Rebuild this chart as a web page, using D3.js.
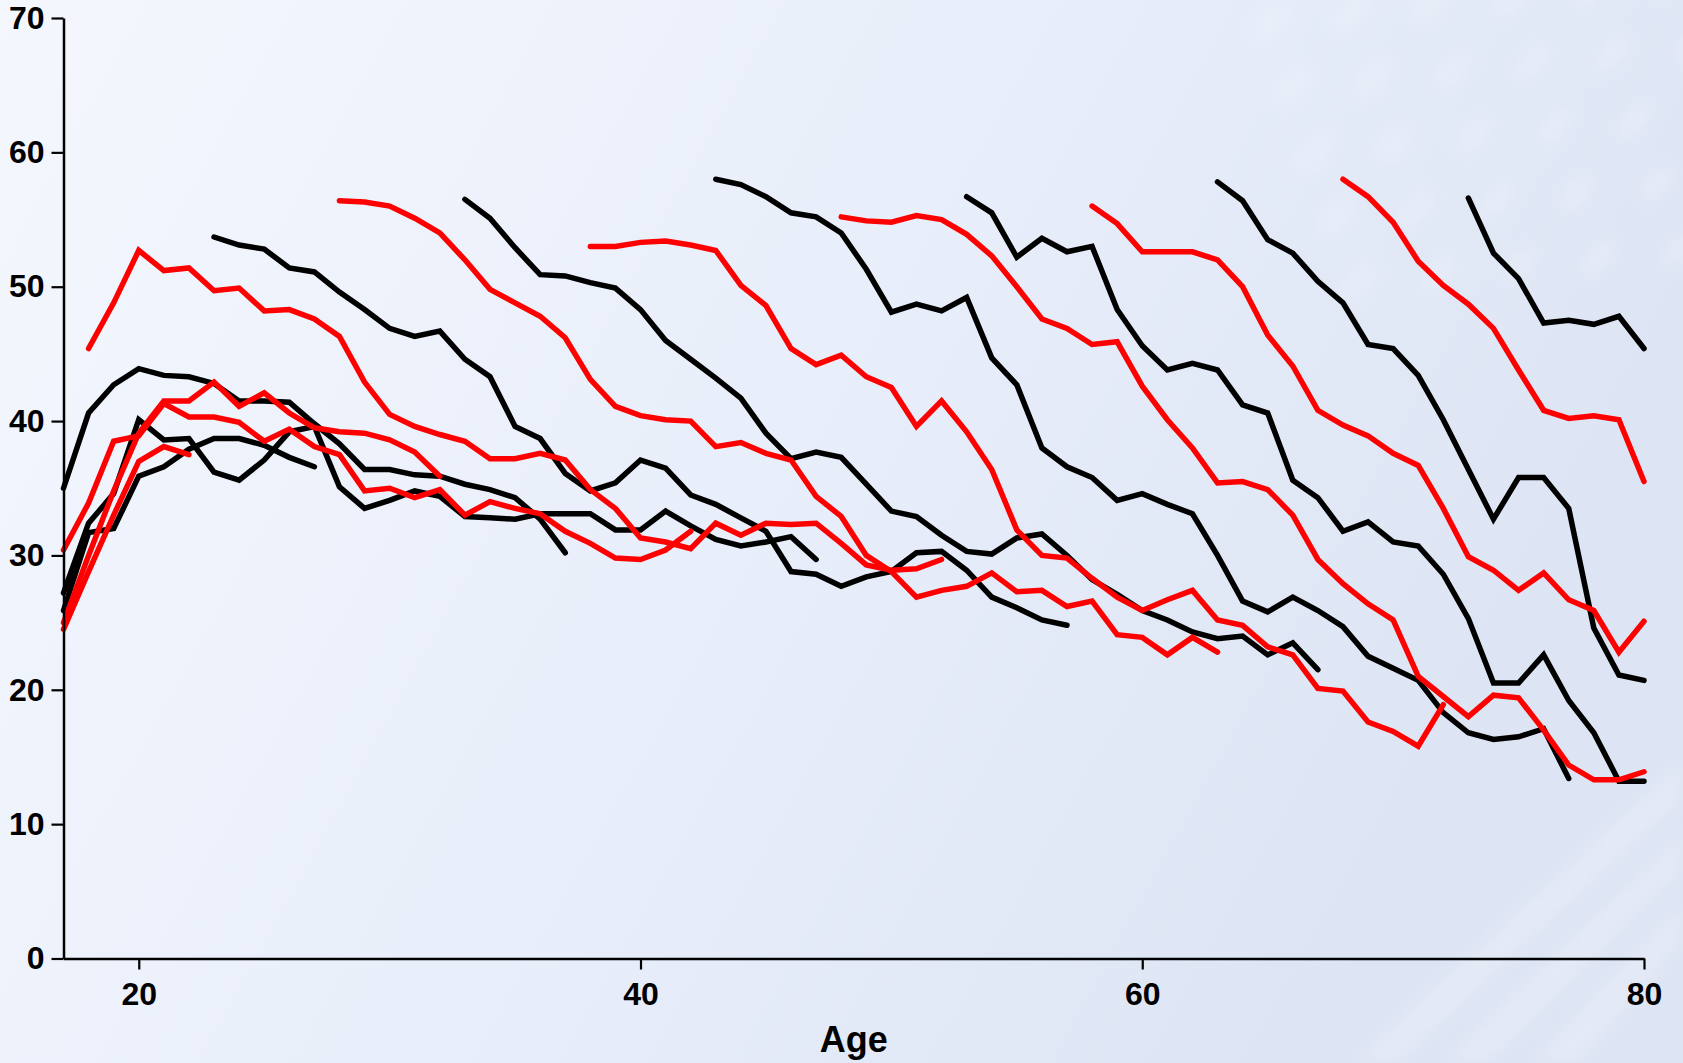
<!DOCTYPE html>
<html>
<head>
<meta charset="utf-8">
<script src="https://cdn.jsdelivr.net/npm/d3@7"></script>
<style>
  html, body { margin: 0; padding: 0; background: #eef2fb; }
  svg { display: block; }
  text { font-family: "Liberation Sans", Arial, Helvetica, sans-serif; font-weight: bold; }
</style>
</head>
<body>
<svg id="chart" width="1683" height="1063"></svg>
<script>
// ---------------- data ----------------
const ageDomain = [17, 80];
const valueDomain = [0, 70];
const xTicks = [20, 40, 60, 80];
const yTicks = [0, 10, 20, 30, 40, 50, 60, 70];
const xTitle = "Age";

// black series (values for consecutive ages from the start age)
const black_17_27 = [25.9, 31.7, 32.0, 35.9, 36.6, 37.9, 38.7, 38.7, 38.2, 37.3, 36.6];
const black_17_37 = [35.0, 40.6, 42.7, 43.9, 43.4, 43.3, 42.8, 41.5, 41.5, 41.4, 39.8, 38.3, 36.4, 36.4, 36.0, 35.9, 35.3, 34.9, 34.3, 32.7, 30.2];
const black_17_47 = [27.2, 32.4, 34.6, 40.1, 38.6, 38.7, 36.2, 35.6, 37.1, 39.2, 39.6, 35.1, 33.5, 34.1, 34.8, 34.4, 32.9, 32.8, 32.7, 33.1, 33.1, 33.1, 31.9, 31.9, 33.3, 32.2, 31.2, 30.7, 31.0, 31.4, 29.7];
const black_23_57 = [53.7, 53.1, 52.8, 51.4, 51.1, 49.6, 48.3, 46.9, 46.3, 46.7, 44.6, 43.3, 39.6, 38.7, 36.1, 34.8, 35.4, 37.1, 36.5, 34.5, 33.8, 32.8, 31.8, 28.8, 28.6, 27.7, 28.4, 28.8, 30.2, 30.3, 28.9, 26.9, 26.1, 25.2, 24.8];
const black_33_67 = [56.5, 55.1, 52.9, 50.9, 50.8, 50.3, 49.9, 48.3, 46.0, 44.6, 43.2, 41.7, 39.1, 37.2, 37.7, 37.3, 35.3, 33.3, 32.9, 31.5, 30.3, 30.1, 31.3, 31.6, 30.0, 28.2, 27.1, 25.9, 25.2, 24.3, 23.8, 24.0, 22.6, 23.5, 21.5];
const black_43_77 = [58.0, 57.6, 56.7, 55.5, 55.2, 54.0, 51.3, 48.1, 48.7, 48.2, 49.2, 44.7, 42.7, 38.0, 36.6, 35.8, 34.1, 34.6, 33.8, 33.1, 30.0, 26.6, 25.8, 26.9, 25.9, 24.7, 22.5, 21.6, 20.7, 18.3, 16.8, 16.3, 16.5, 17.1, 13.4];
const black_53_80 = [56.7, 55.5, 52.2, 53.6, 52.6, 53.0, 48.3, 45.6, 43.8, 44.3, 43.8, 41.2, 40.6, 35.6, 34.3, 31.8, 32.5, 31.0, 30.7, 28.6, 25.3, 20.5, 20.5, 22.6, 19.2, 16.8, 13.2, 13.2];
const black_63_80 = [57.8, 56.4, 53.5, 52.5, 50.4, 48.8, 45.7, 45.4, 43.4, 40.1, 36.4, 32.7, 35.8, 35.8, 33.5, 24.6, 21.1, 20.7];
const black_73_80 = [56.6, 52.5, 50.6, 47.3, 47.5, 47.2, 47.8, 45.4];

// red series
const red_17_22 = [24.5, 28.8, 33.0, 37.0, 38.1, 37.5];
const red_17_32 = [25.0, 30.0, 34.8, 39.1, 41.5, 41.5, 42.9, 41.1, 42.1, 40.6, 39.5, 39.2, 39.1, 38.6, 37.7, 35.9];
const red_17_42 = [30.4, 33.9, 38.5, 38.9, 41.3, 40.3, 40.3, 39.9, 38.5, 39.4, 38.1, 37.5, 34.8, 35.0, 34.3, 34.9, 33.0, 34.0, 33.5, 33.1, 31.8, 30.9, 29.8, 29.7, 30.4, 31.8];
const red_18_52 = [45.4, 48.8, 52.7, 51.2, 51.4, 49.7, 49.9, 48.2, 48.3, 47.6, 46.3, 42.9, 40.5, 39.6, 39.0, 38.5, 37.2, 37.2, 37.6, 37.1, 34.9, 33.5, 31.3, 31.0, 30.5, 32.4, 31.5, 32.4, 32.3, 32.4, 30.9, 29.3, 28.9, 29.0, 29.7];
const red_28_63 = [56.4, 56.3, 56.0, 55.1, 54.0, 52.0, 49.8, 48.8, 47.8, 46.2, 43.1, 41.1, 40.4, 40.1, 40.0, 38.1, 38.4, 37.6, 37.1, 34.4, 32.9, 30.0, 28.8, 26.9, 27.4, 27.7, 28.7, 27.3, 27.4, 26.2, 26.6, 24.1, 23.9, 22.6, 23.9, 22.8];
const red_38_72 = [53.0, 53.0, 53.3, 53.4, 53.1, 52.7, 50.1, 48.6, 45.4, 44.2, 44.9, 43.3, 42.5, 39.6, 41.5, 39.2, 36.4, 31.9, 30.0, 29.8, 28.3, 26.9, 25.9, 26.7, 27.4, 25.2, 24.8, 23.2, 22.6, 20.1, 19.9, 17.6, 16.9, 15.8, 18.9];
const red_48_80 = [55.2, 54.9, 54.8, 55.3, 55.0, 53.9, 52.3, 50.0, 47.6, 46.9, 45.7, 45.9, 42.6, 40.1, 38.0, 35.4, 35.5, 34.9, 33.0, 29.7, 27.9, 26.4, 25.2, 21.0, 19.5, 18.0, 19.6, 19.4, 17.0, 14.4, 13.3, 13.3, 13.9];
const red_58_80 = [56.0, 54.7, 52.6, 52.6, 52.6, 52.0, 50.0, 46.4, 44.1, 40.8, 39.7, 38.9, 37.6, 36.7, 33.5, 29.9, 28.9, 27.4, 28.7, 26.7, 25.9, 22.8, 25.1];
const red_68_80 = [58.0, 56.7, 54.8, 51.9, 50.1, 48.7, 46.9, 43.8, 40.8, 40.2, 40.4, 40.1, 35.5];

// [start age, values]
const blackSeries = [
  [17, black_17_27], [17, black_17_37], [17, black_17_47], [23, black_23_57],
  [33, black_33_67], [43, black_43_77], [53, black_53_80], [63, black_63_80], [73, black_73_80]
];
const redSeries = [
  [17, red_17_22], [17, red_17_32], [17, red_17_42], [18, red_18_52],
  [28, red_28_63], [38, red_38_72], [48, red_48_80], [58, red_58_80], [68, red_68_80]
];

// ---------------- drawing ----------------
const W = 1683, H = 1063;
const svg = d3.select("#chart");

// background
const defs = svg.append("defs");
const bg = defs.append("linearGradient").attr("id", "bg").attr("x1", 0).attr("y1", 0).attr("x2", 1).attr("y2", 0.35);
bg.append("stop").attr("offset", "0%").attr("stop-color", "#f4f7fd");
bg.append("stop").attr("offset", "55%").attr("stop-color", "#e8eefa");
bg.append("stop").attr("offset", "100%").attr("stop-color", "#dde4f3");
const blur = defs.append("filter").attr("id", "soft").attr("x", "-20%").attr("y", "-20%").attr("width", "140%").attr("height", "140%");
blur.append("feGaussianBlur").attr("stdDeviation", 9);

svg.append("rect").attr("width", W).attr("height", H).attr("fill", "url(#bg)");

// faint decorative shapes (top right)
const deco = svg.append("g").attr("filter", "url(#soft)").attr("fill", "#ffffff").attr("opacity", 0.22);
const decoCells = [];
for (let r = 0; r < 5; r++) {
  for (let c = 0; c < 6; c++) {
    const cx = 1250 + c * 80 + r * 22;
    const cy = 30 + r * 65 - c * 8;
    if (cx > 1240 && cx < 1690) decoCells.push([cx, cy]);
  }
}
deco.selectAll("path").data(decoCells).join("path")
  .attr("d", d => `M${d[0]},${d[1]} l28,-30 l14,10 l-28,34 z`);
// soft diagonal light streaks (bottom right)
svg.append("g").attr("filter", "url(#soft)").attr("opacity", 0.2)
  .selectAll("path").data([0, 1, 2]).join("path")
  .attr("fill", "#ffffff")
  .attr("d", (d, i) => `M${1350 + i * 90},1063 L${1683},${760 + i * 70} L1683,${800 + i * 70} L${1400 + i * 90},1063 Z`);

const x = d3.scaleLinear().domain(ageDomain).range([63.5, 1644]);
const y = d3.scaleLinear().domain(valueDomain).range([958.5, 18]);

const line = d3.line().x(d => x(d[0])).y(d => y(d[1]));
const toPoints = ([start, vals]) => vals.map((v, i) => [start + i, v]);

const lines = svg.append("g").attr("fill", "none").attr("stroke-width", 5.5)
  .attr("stroke-linejoin", "miter").attr("stroke-miterlimit", 3).attr("stroke-linecap", "round");

lines.selectAll("path.blk").data(blackSeries).join("path")
  .attr("class", "blk").attr("stroke", "#000000").attr("d", d => line(toPoints(d)));
lines.selectAll("path.red").data(redSeries).join("path")
  .attr("class", "red").attr("stroke", "#ff0000").attr("d", d => line(toPoints(d)));

// axes
const yAxis = svg.append("g").attr("transform", `translate(${x(ageDomain[0])},0)`)
  .call(d3.axisLeft(y).tickValues(yTicks).tickFormat(d3.format("d")).tickSize(12).tickSizeOuter(0).tickPadding(7));
const xAxis = svg.append("g").attr("transform", `translate(0,${y(0)})`)
  .call(d3.axisBottom(x).tickValues(xTicks).tickFormat(d3.format("d")).tickSize(11).tickSizeOuter(0).tickPadding(13));

[yAxis, xAxis].forEach(a => {
  a.select(".domain").attr("stroke", "#000").attr("stroke-width", 2.5);
  a.selectAll(".tick line").attr("stroke", "#000").attr("stroke-width", 2.2);
  a.selectAll(".tick text").attr("fill", "#000").style("font-size", "32px")
    .style("font-family", "'Liberation Sans', Arial, sans-serif").style("font-weight", "bold");
});

svg.append("text")
  .attr("x", (x(ageDomain[0]) + x(ageDomain[1])) / 2)
  .attr("y", 1052)
  .attr("text-anchor", "middle")
  .style("font-size", "36px")
  .attr("fill", "#000")
  .text(xTitle);
</script>
</body>
</html>
